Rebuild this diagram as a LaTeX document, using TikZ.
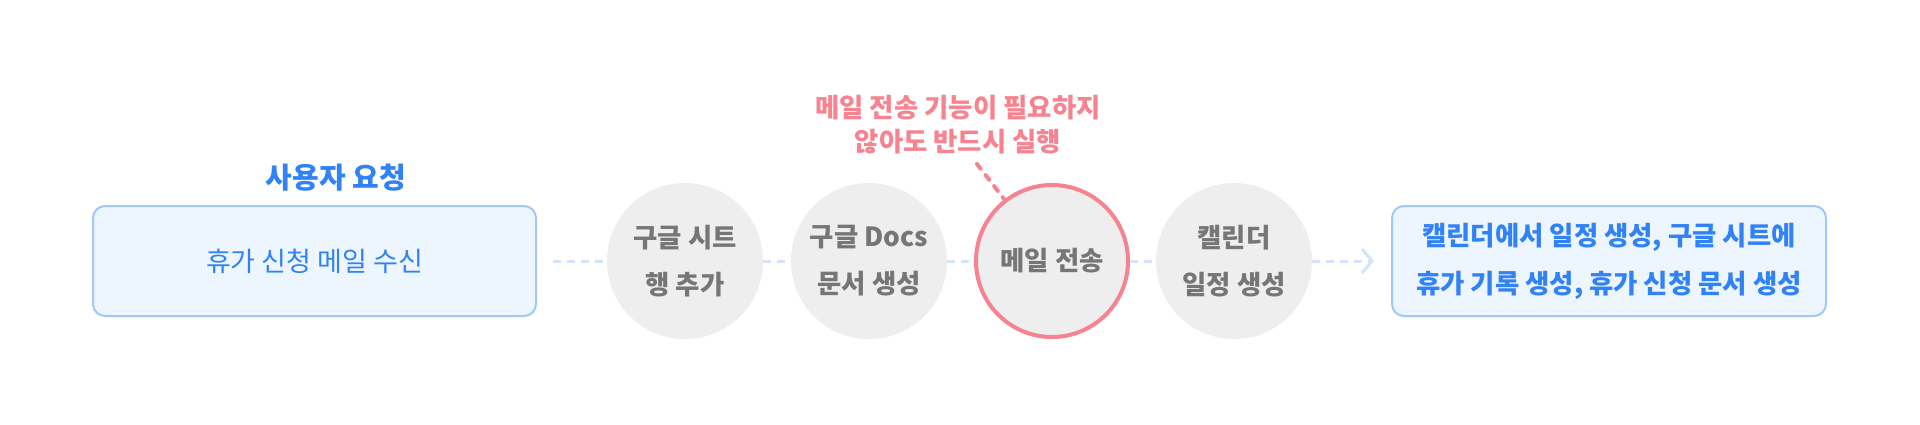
\documentclass[tikz,border=0pt]{standalone}
\usepackage{fontspec}
\setmainfont{Noto Sans CJK KR}
\usetikzlibrary{arrows.meta}
\definecolor{tblue}{RGB}{49,130,246}
\definecolor{boxfill}{RGB}{237,245,255}
\definecolor{boxline}{RGB}{160,201,250}
\definecolor{cfill}{RGB}{238,238,238}
\definecolor{ctext}{RGB}{118,118,118}
\definecolor{tpink}{RGB}{246,131,143}
\definecolor{dashc}{RGB}{212,228,250}
\tikzset{
  bluebox/.style={draw=boxline, line width=1pt, fill=boxfill, rounded corners=6pt,
    minimum height=55pt, text=tblue, align=center},
  gcircle/.style={circle, fill=cfill, minimum size=78pt, inner sep=0pt, text=ctext,
    align=center, font=\fontsize{13.2}{23.5}\selectfont\bfseries},
  pcircle/.style={gcircle, draw=tpink, line width=2pt, minimum size=76pt},
  conn/.style={draw=dashc, line width=1.5pt, dash pattern=on 4pt off 3pt},
  noteline/.style={draw=tpink, line width=2pt, line cap=round, dash pattern=on 3pt off 4pt},
}
\begin{document}
\begin{tikzpicture}[x=0.5pt,y=-0.5pt]
\path[use as bounding box, fill=white] (0,0) rectangle (1920,424);
% nodes
\node[bluebox, minimum width=221.5pt, font=\fontsize{13.5}{16}\selectfont] (L) at (314.5,261) {휴가 신청 메일 수신};
\node[text=tblue, font=\fontsize{14.5}{17}\selectfont\bfseries] (T) at (336,178) {사용자 요청};
\node[gcircle] (c1) at (685,261) {구글 시트\\행 추가};
\node[gcircle] (c2) at (869,261) {구글 Docs\\문서 생성};
\node[pcircle] (c3) at (1052,261) {메일 전송};
\node[gcircle] (c4) at (1234,261) {캘린더\\일정 생성};
\node[bluebox, minimum width=217pt, font=\fontsize{13.2}{24}\selectfont\bfseries] (R) at (1609,261) {캘린더에서 일정 생성, 구글 시트에\\휴가 기록 생성, 휴가 신청 문서 생성};
\node[text=tpink, align=center, font=\fontsize{13.2}{17}\selectfont\bfseries] (N) at (958,125) {메일 전송 기능이 필요하지\\않아도 반드시 실행};
\coordinate (np) at (977,164);
% connectors
\draw[conn, shorten <=8pt] (L) -- (c1);
\draw[conn] (c1) -- (c2);
\draw[conn] (c2) -- (c3);
\draw[conn] (c3) -- (c4);
\draw[conn, shorten >=8.5pt, -{Straight Barb[length=5pt,width=12pt]}] (c4) -- (R);
\draw[noteline] (np) -- (c3);
\end{tikzpicture}
\end{document}
